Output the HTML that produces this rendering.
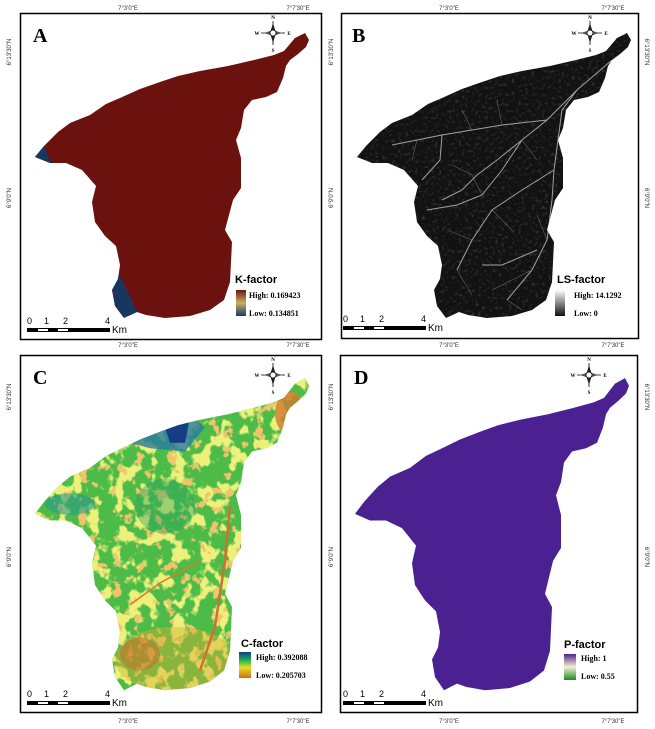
<!DOCTYPE html>
<html><head><meta charset="utf-8"><style>
body{margin:0;background:#fff}
svg{display:block}
text{font-family:"Liberation Sans",sans-serif}
.ser{font-family:"Liberation Serif",serif;font-weight:bold}
</style></head><body>
<svg width="655" height="729" viewBox="0 0 655 729" xmlns="http://www.w3.org/2000/svg">
<defs>
<path id="ws" d="M305,33 L309,40 L306,47 L298,54 L290,60 L286,66 L283,78 L277,92 L266,97 L252,100 L244,110 L241,128 L236,140 L241,158 L241,188 L233,200 L229,215 L225,230 L232,242 L231,262 L230,282 L224,300 L210,310 L190,316 L165,318 L146,315 L137,312 L124,318 L115,306 L112,290 L118,279 L120,265 L116,246 L105,236 L95,222 L92,202 L96,186 L82,170 L66,163 L50,163 L35,157 L44,146 L58,132 L70,123 L90,115 L106,104 L120,98 L140,89 L160,82 L178,76 L200,71 L228,66 L254,60 L274,55 L284,51 L295,38 Z"/>
<clipPath id="cp"><use href="#ws"/></clipPath>
<filter id="fy" x="0" y="0" width="1" height="1">
<feTurbulence type="fractalNoise" baseFrequency="0.07" numOctaves="3" seed="3"/>
<feColorMatrix values="0 0 0 0 0.85  0 0 0 0 0.88  0 0 0 0 0.2  10 0 0 0 -5.2"/>
</filter>
<filter id="fo" x="0" y="0" width="1" height="1">
<feTurbulence type="fractalNoise" baseFrequency="0.09" numOctaves="3" seed="8"/>
<feColorMatrix values="0 0 0 0 0.88  0 0 0 0 0.55  0 0 0 0 0.15  12 0 0 0 -7.4"/>
</filter>
<filter id="fg" x="0" y="0" width="1" height="1">
<feTurbulence type="fractalNoise" baseFrequency="0.3" numOctaves="2" seed="5"/>
<feColorMatrix values="0 0 0 0 0.6  0 0 0 0 0.6  0 0 0 0 0.6  3 0 0 0 -1.6"/>
</filter>
<linearGradient id="gk" x1="0" y1="0" x2="0" y2="1"><stop offset="0" stop-color="#6e1410"/><stop offset="0.5" stop-color="#c8b060"/><stop offset="1" stop-color="#1a3a66"/></linearGradient>
<linearGradient id="gls" x1="0" y1="0" x2="0" y2="1"><stop offset="0" stop-color="#fff"/><stop offset="1" stop-color="#111"/></linearGradient>
<linearGradient id="gc" x1="0" y1="0" x2="0" y2="1"><stop offset="0" stop-color="#173c86"/><stop offset="0.3" stop-color="#19b05a"/><stop offset="0.6" stop-color="#e4e020"/><stop offset="1" stop-color="#d06a20"/></linearGradient>
<linearGradient id="gp" x1="0" y1="0" x2="0" y2="1"><stop offset="0" stop-color="#4d2590"/><stop offset="0.5" stop-color="#f4f0d0"/><stop offset="1" stop-color="#1c8a20"/></linearGradient>
<g id="compass">
<line x1="-12" y1="0" x2="12" y2="0" stroke="#000" stroke-width="0.8"/>
<line x1="0" y1="-12" x2="0" y2="12" stroke="#000" stroke-width="0.8"/>
<polygon points="0,-10 3,0 0,10 -3,0" fill="#222"/>
<polygon points="-9,0 0,-3 9,0 0,3" fill="#555"/>
<circle r="3" fill="#fff" stroke="#000" stroke-width="0.8"/>
<text x="0" y="-14" font-size="5" text-anchor="middle" class="ser">N</text>
<text x="0" y="19" font-size="5" text-anchor="middle" class="ser">S</text>
<text x="-16" y="2" font-size="5" text-anchor="middle" class="ser">W</text>
<text x="16" y="2" font-size="5" text-anchor="middle" class="ser">E</text>
</g>
<g id="scale">
<text x="27" y="-4" font-size="9">0</text><text x="44" y="-4" font-size="9">1</text><text x="63" y="-4" font-size="9">2</text><text x="105" y="-4" font-size="9">4</text>
<rect x="27" y="0" width="83" height="4" fill="#000"/>
<rect x="38" y="1" width="10" height="2" fill="#fff"/><rect x="58" y="1" width="10" height="2" fill="#fff"/>
<text x="112" y="5" font-size="10">Km</text>
</g>
</defs>

<!-- Panel A -->
<g>
<rect x="20.5" y="13.5" width="301" height="326" fill="none" stroke="#000" stroke-width="1.5"/>
<use href="#ws" fill="#6b120e"/>
<g clip-path="url(#cp)"><polygon points="30,150 44,146 52,164 30,165" fill="#17375e"/><polygon points="110,270 120,276 138,313 110,322" fill="#17375e"/></g>
<text x="33" y="42" font-size="20" class="ser">A</text>
<use href="#compass" transform="translate(273,33)"/>
<use href="#scale" transform="translate(0,328)"/>
<text x="235" y="283" font-size="11" font-weight="bold">K-factor</text>
<rect x="236" y="290" width="10" height="26" fill="url(#gk)"/>
<text x="249" y="298" font-size="8" class="ser">High: 0.169423</text>
<text x="249" y="316" font-size="8" class="ser">Low: 0.134851</text>
</g>
<!-- Panel B -->
<g>
<rect x="341.5" y="13.5" width="297" height="325" fill="none" stroke="#000" stroke-width="1.5"/>
<g transform="translate(322,0)">
<use href="#ws" fill="#121212"/>
<g clip-path="url(#cp)">
<rect x="30" y="30" width="285" height="295" filter="url(#fg)" opacity="0.2"/>
<g stroke="#bbb" stroke-width="1" fill="none" opacity="0.85">
<path d="M290,60 L255,90 L225,120 L200,140 L175,160 L155,175 L140,190 L120,200"/>
<path d="M255,90 L240,110 L236,140 L232,170 L230,200 L225,240 L210,270 L185,300"/>
<path d="M232,170 L200,190 L170,210 L150,240 L135,270"/>
<path d="M225,120 L180,125 L150,130 L120,135 L95,140 L70,145"/>
<path d="M200,140 L180,170 L160,195 L135,205 L105,210"/>
<path d="M215,250 L180,265 L160,265"/>
<path d="M120,135 L118,160 L100,180"/>
</g>
<g stroke="#888" stroke-width="0.6" fill="none" opacity="0.7">
<path d="M150,130 L140,110"/><path d="M180,125 L175,100"/><path d="M200,140 L215,160"/>
<path d="M160,195 L150,175 L130,165"/><path d="M170,210 L190,230"/><path d="M150,240 L125,230"/>
<path d="M210,270 L190,280 L170,290"/><path d="M225,240 L215,215"/><path d="M95,140 L90,160"/>
<path d="M240,110 L270,100"/><path d="M135,270 L150,295"/><path d="M185,300 L200,310"/>
</g>
</g>
</g>
<text x="352" y="42" font-size="20" class="ser">B</text>
<use href="#compass" transform="translate(590,33)"/>
<use href="#scale" transform="translate(316,326)"/>
<text x="557" y="283" font-size="11" font-weight="bold">LS-factor</text>
<rect x="555" y="290" width="10" height="26" fill="url(#gls)"/>
<text x="574" y="298" font-size="8" class="ser">High: 14.1292</text>
<text x="574" y="316" font-size="8" class="ser">Low: 0</text>
</g>
<!-- Panel C -->
<g>
<rect x="20.5" y="355.5" width="301" height="357" fill="none" stroke="#000" stroke-width="1.5"/>
<g transform="matrix(1 0 0 1.095 0 342)">
<use href="#ws" fill="#4cbb48"/>
<g clip-path="url(#cp)">
<rect x="30" y="30" width="285" height="295" filter="url(#fy)"/>
<rect x="30" y="30" width="285" height="295" filter="url(#fo)"/>
<ellipse cx="175" cy="290" rx="60" ry="30" fill="#d8b030" opacity="0.45"/>
<ellipse cx="140" cy="285" rx="20" ry="15" fill="#c8682a" opacity="0.5"/>
<ellipse cx="290" cy="65" rx="15" ry="20" fill="#d07a30" opacity="0.8"/>
<ellipse cx="165" cy="150" rx="30" ry="25" fill="#28a060" opacity="0.4"/>
<ellipse cx="70" cy="148" rx="25" ry="10" fill="#2a9a8a" opacity="0.6"/>
<polygon points="130,92 150,80 195,70 205,78 185,100 150,97" fill="#2a7aa0" opacity="0.8"/>
<polygon points="165,78 190,68 185,92 170,92" fill="#173c86"/>
<path d="M230,150 L225,200 L215,260 L200,300" stroke="#d07030" stroke-width="2.5" fill="none"/>
<path d="M200,200 L160,220 L130,240" stroke="#d08030" stroke-width="1.5" fill="none"/>
</g>
</g>
<text x="33" y="384" font-size="20" class="ser">C</text>
<use href="#compass" transform="translate(273,375)"/>
<use href="#scale" transform="translate(0,701)"/>
<text x="241" y="647" font-size="11" font-weight="bold">C-factor</text>
<rect x="239" y="652" width="12" height="26" fill="url(#gc)"/>
<text x="256" y="660" font-size="8" class="ser">High: 0.392088</text>
<text x="256" y="678" font-size="8" class="ser">Low: 0.205703</text>
</g>
<!-- Panel D -->
<g>
<rect x="340.5" y="355.5" width="297" height="357" fill="none" stroke="#000" stroke-width="1.5"/>
<g transform="matrix(1 0 0 1.095 320 342)"><use href="#ws" fill="#4b2091"/></g>
<text x="354" y="384" font-size="20" class="ser">D</text>
<use href="#compass" transform="translate(589,375)"/>
<use href="#scale" transform="translate(316,701)"/>
<text x="564" y="648" font-size="11" font-weight="bold">P-factor</text>
<rect x="564" y="654" width="12" height="26" fill="url(#gp)"/>
<text x="581" y="661" font-size="8" class="ser">High: 1</text>
<text x="581" y="679" font-size="8" class="ser">Low: 0.55</text>
</g>
<!-- coordinate labels -->
<g font-size="6" fill="#333" text-anchor="middle">
<text x="128" y="10">7°3'0"E</text><text x="298" y="10">7°7'30"E</text>
<text x="449" y="10">7°3'0"E</text><text x="613" y="10">7°7'30"E</text>
<text x="128" y="347">7°3'0"E</text><text x="298" y="347">7°7'30"E</text>
<text x="449" y="347">7°3'0"E</text><text x="613" y="347">7°7'30"E</text>
<text x="128" y="723">7°3'0"E</text><text x="298" y="723">7°7'30"E</text>
<text x="449" y="723">7°3'0"E</text><text x="613" y="723">7°7'30"E</text>
<text transform="translate(11,52) rotate(-90)">6°13'30"N</text>
<text transform="translate(11,198) rotate(-90)">6°9'0"N</text>
<text transform="translate(333,52) rotate(-90)">6°13'30"N</text>
<text transform="translate(333,198) rotate(-90)">6°9'0"N</text>
<text transform="translate(645,52) rotate(90)">6°13'30"N</text>
<text transform="translate(645,198) rotate(90)">6°9'0"N</text>
<text transform="translate(11,397) rotate(-90)">6°13'30"N</text>
<text transform="translate(11,557) rotate(-90)">6°9'0"N</text>
<text transform="translate(333,397) rotate(-90)">6°13'30"N</text>
<text transform="translate(333,557) rotate(-90)">6°9'0"N</text>
<text transform="translate(645,397) rotate(90)">6°13'30"N</text>
<text transform="translate(645,557) rotate(90)">6°9'0"N</text>
</g>
</svg>
</body></html>
